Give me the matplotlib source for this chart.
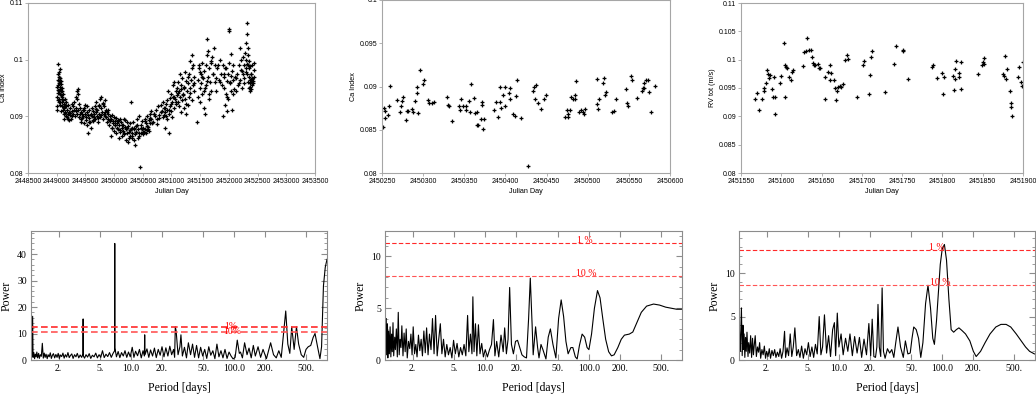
import numpy as np
import matplotlib
matplotlib.use('Agg')
import matplotlib.pyplot as plt
from matplotlib.ticker import FixedLocator, NullLocator, MultipleLocator, FixedFormatter, FuncFormatter

# ---------------- DATA ----------------
JD_BASE = 2448000
# Top-left: Ca index, full time series (JD - 2448000)
ca_full_jd = [
    1005,1010,1012,1015,1018,1020,1025,1028,1030,1033,1036,1040,1042,1045,1048,1050,1055,1058,1060,1065,1068,1070,1075,1078,1082,1085,1090,1095,1098,1100,1008,1022,1052,1062,
    1105,1110,1115,1120,1125,1130,1135,1140,1145,1150,1160,1165,1170,1180,1185,1190,1200,1210,1220,1230,1240,1250,1260,1270,1280,1290,1300,
    1310,1320,1330,1340,1350,1355,1360,1370,1375,1380,1390,1400,1410,1420,1430,1440,1450,
    1460,1470,1480,1490,1500,1510,1520,1530,1540,1550,1560,1570,1580,1590,1600,1610,1620,1630,1640,1650,
    1660,1670,1680,1690,1700,1710,1720,1730,1740,1750,1760,1770,1780,1790,1800,1810,1820,1830,1840,1850,1860,1870,1880,1890,1900,
    1910,1920,1930,1940,1950,1960,1970,1980,1990,2000,2010,2020,2030,2040,2050,2060,2070,2080,2090,2100,
    2110,2120,2130,2140,2150,2160,2170,2180,2190,2200,2210,2220,2230,2240,2250,2260,2270,2280,2290,2300,2305,2310,2320,2330,2340,2350,2360,2370,2380,2390,2400,2410,2420,2430,2440,2445,
    2460,2470,2480,2490,2500,2510,2520,2530,2540,2550,2560,2570,2580,2590,2600,2610,2620,2630,2640,2650,
    2670,2690,2710,2730,2750,2770,2790,2810,2830,2850,2860,2870,2880,2890,2900,
    2910,2920,2930,2940,2950,2960,2970,2980,2990,3000,3010,3020,3030,3040,3050,3060,3070,3080,3090,3100,
    3110,3120,3130,3140,3150,3160,3170,3180,3190,3200,3210,3220,3230,3240,3250,3260,3270,3280,3290,3300,
    3310,3320,3330,3340,3350,3360,3370,3380,3390,3400,3440,
    3460,3470,3480,3490,3500,3510,3520,3530,3540,3550,3560,3570,3580,3590,3600,3610,3620,3630,3640,3650,3660,3670,3680,3690,3700,
    3720,3740,3750,3760,3780,3800,3820,3840,3860,3880,3890,3900,
    3910,3920,3930,3940,3950,3960,3970,3980,3990,4000,4005,4010,4020,4030,4040,4050,4060,4070,4080,4090,4100,
    4120,4140,4160,4180,4190,4200,4210,4220,4230,4240,4250,4260,4270,4280,4290,4300,
    4305,4310,4315,4320,4325,4330,4335,4340,4345,4350,4355,4360,4365,4370,4375,4380,4385,4390,4395,4400,4410,4420,4430,4440,4445,
    # second pass of observations (denser cloud)
    1035,1065,1090,1120,1150,1195,1235,1275,1335,1365,1415,1445,1475,1505,1535,1565,1595,1625,1655,1685,1715,1745,1775,1805,1835,1865,1895,
    1925,1955,1985,2015,2045,2075,2105,2135,2165,2195,2225,2255,2285,2315,2345,2375,2405,2435,2475,2505,2535,2565,2595,2625,2655,
    2700,2740,2780,2820,2865,2895,2925,2955,2985,3015,3045,3075,3105,3135,3165,3195,3225,3255,3285,3325,3355,3385,
    3475,3505,3535,3565,3595,3625,3655,3685,3730,3770,3810,3850,3915,3945,3975,4015,4045,4075,4130,4170,4215,4255,4295,4322,4342,4362,4382,4402,4425,
]
ca_full_val = [
    .0935,.0952,.0918,.0965,.0942,.0928,.0975,.0955,.0993,.0962,.0945,.0978,.0930,.0958,.0970,.0940,.0962,.0925,.0952,.0968,.0938,.0910,.0957,.0944,.0962,.0930,.0950,.0918,.0945,.0935,.0912,.0947,.0920,.0983,
    .0928,.0912,.0940,.0905,.0922,.0895,.0915,.0930,.0908,.0920,.0900,.0918,.0925,.0898,.0912,.0905,.0920,.0893,.0908,.0902,.0915,.0896,.0910,.0900,.0918,.0905,.0912,
    .0925,.0900,.0935,.0915,.0945,.0905,.0930,.0948,.0912,.0922,.0898,.0915,.0905,.0890,.0908,.0897,.0912,
    .0900,.0915,.0888,.0905,.0920,.0893,.0908,.0885,.0902,.0870,.0897,.0912,.0890,.0905,.0880,.0915,.0900,.0892,.0910,.0898,
    .0918,.0895,.0908,.0925,.0900,.0912,.0890,.0920,.0905,.0930,.0898,.0915,.0935,.0908,.0922,.0895,.0918,.0905,.0928,.0900,.0912,.0890,.0908,.0895,.0905,
    .0885,.0900,.0892,.0865,.0895,.0880,.0903,.0888,.0898,.0875,.0892,.0884,.0897,.0870,.0889,.0878,.0893,.0862,.0885,.0895,
    .0872,.0890,.0880,.0865,.0885,.0875,.0895,.0868,.0882,.0858,.0878,.0890,.0870,.0855,.0883,.0873,.0865,.0888,.0878,.0925,.0862,.0880,.0870,.0890,.0858,.0877,.0868,.0850,.0883,.0873,.0895,.0862,.0878,.0900,.0870,.0810,
    .0885,.0870,.0878,.0892,.0868,.0880,.0873,.0895,.0877,.0888,.0870,.0900,.0883,.0878,.0893,.0875,.0905,.0888,.0910,.0895,
    .0890,.0905,.0900,.0912,.0895,.0918,.0903,.0920,.0910,.0898,.0925,.0915,.0880,.0908,.0922,
    .0900,.0928,.0912,.0945,.0905,.0870,.0932,.0918,.0940,.0910,.0925,.0955,.0935,.0915,.0960,.0930,.0945,.0922,.0950,.0938,
    .0960,.0925,.0945,.0975,.0935,.0908,.0955,.0928,.0968,.0940,.0915,.0950,.0978,.0930,.0962,.0905,.0945,.0920,.0958,.0935,
    .0975,.0950,.0998,.0965,.1008,.0985,.0955,.0990,.0970,.0945,.0890,
    .0965,.0935,.0985,.0950,.0925,.0975,.0958,.0995,.0940,.0968,.0915,.0980,.0950,.0905,.0990,.1008,.1037,.0970,.1015,.0930,.0985,.0960,.0998,.0945,.1005,
    .0975,.1020,.0960,.0990,.0945,.0985,.0965,.1000,.0975,.0955,.0990,.0900,
    .0950,.0970,.0920,.0985,.0940,.0962,.0910,.0975,.0930,.1055,.1050,.0995,.0960,.1010,.0945,.0980,.0912,.0965,.0990,.0948,.0970,
    .0945,.0975,.0955,.0990,.1020,.0965,.1000,.0980,.0950,.1005,.0975,.0990,.0958,.1012,.0985,.1030,
    .1000,.1065,.0975,.1045,.0990,.1020,.0960,.1008,.0985,.0950,.0970,.0958,.0945,.0965,.0952,.0975,.0960,.0948,.0968,.0955,.0990,.0962,.0982,.0970,.0995,
    .0925,.0948,.0926,.0916,.0906,.0896,.0906,.0922,.0910,.0940,.0895,.0905,.0912,.0898,.0918,.0890,.0902,.0893,.0905,.0913,.0897,.0918,.0903,.0924,.0908,.0899,.0911,
    .0893,.0879,.0892,.0885,.0880,.0891,.0876,.0885,.0870,.0893,.0880,.0862,.0876,.0866,.0879,.0872,.0885,.0866,.0880,.0873,.0891,.0876,.0882,.0897,.0889,.0904,.0886,
    .0897,.0908,.0903,.0915,.0896,.0912,.0922,.0898,.0935,.0925,.0942,.0918,.0948,.0938,.0952,.0922,.0970,.0942,.0928,.0958,.0990,.0978,
    .0970,.0945,.0955,.0962,.0940,.0995,.0975,.0968,.0990,.0960,.0975,.0985,.0935,.0958,.0972,.0940,.0968,.0958,.0982,.0968,.0978,.0992,.0998,.0988,.0975,.0966,.0958,.0962,.0978,
]

# Top-middle: Ca index, one season (JD - 2450000)
ca_sub_jd = [
    250.8,252,253.6,254,257,258,259.4,268,271.5,272.5,274,275,279,280.5,281.5,286,287.5,289.7,292,293,294,296,299.5,300.7,306,307.7,311,313.8,
    328.6,330.6,331.9,335.5,343.7,345,345.8,348.7,352,352.4,355.6,357.2,358,362,363.4,365,366.6,365.4,370,371,371.6,372.8,374,
    386,388,391.3,393,394.5,394,397.5,399,400,404.3,405.6,406,409,412,413,414.5,419.3,427.5,433.7,435,437,436.5,440,443.7,447.3,449,
    472,474.4,475.5,476.6,478.3,480,482,484,485,485.6,489.3,491.3,494,496,496.8,
    510.7,511.5,512.8,514,519,519.3,520.6,522,529,531.6,534.5,546.4,547.6,548.7,552,553.6,560,566.4,567.5,568.5,569,571.2,573,575,576.5,582,
]
ca_sub_val = [
    .08533,.0875,.0872,.0864,.0867,.0877,.0901,.0884,.0871,.0878,.0883,.0888,.0861,.0872,.0872,.0874,.0871,.0883,.0899,.0893,.0869,.0919,.0903,.0907,.0884,.0881,.0881,.0882,
    .0888,.0879,.0878,.0860,.0878,.0873,.0885,.0877,.0873,.0877,.0883,.0871,.0903,.0887,.0869,.0856,.0856,.0871,.0863,.0879,.0882,.0851,.0863,
    .0873,.0882,.0865,.0882,.0875,.0899,.0890,.0899,.0877,.0892,.0885,.0898,.0868,.0866,.0889,.0907,.0864,.0808,.0895,.0899,.0902,.0885,.0881,.0874,.0886,.0890,
    .0865,.0873,.0865,.0868,.0873,.0888,.0885,.0885,.0890,.0906,.0870,.0873,.0871,.0868,.0874,
    .0880,.0909,.0874,.0885,.0904,.0910,.0890,.0894,.0871,.0872,.0885,.0897,.0881,.0878,.0912,.0908,.0887,.0895,.0898,.0904,.0898,.0907,.0908,.0894,.0871,.0901,
]

# Top-right: RV tot, one season (JD - 2451000)
rv_jd = [
    567.7,570,571.9,576.4,578,579,581.4,582.6,583,584.7,586,588.8,589.6,590.9,591.7,592.5,597.9,600,603.2,604,605,606,607.4,609.4,611.5,612.7,614,
    626.8,628,630.5,632.5,633.8,637,638,639,640.8,642,645,646.2,648.2,654,654.8,658.5,660,661,661.8,665.6,666.8,667.6,669.3,670,673.4,674.2,676,
    679.6,681.2,683,693.6,701.5,702.7,709.3,710,711.4,712.2,728.7,739.8,742.7,750.6,751.4,757.6,
    787.3,788,793,798.9,800.5,801.7,812.9,814,815.3,816.2,817.4,820.3,821,822.8,823.6,844.7,848.8,850.4,851.2,852,
    875.6,876.8,877.7,879.4,880.6,883.5,884.7,885.5,886.4,893.4,895.4,897,898.3,899.5,
]
rv_val = [
    .0930,.0941,.0912,.0931,.0944,.0950,.0958,.0981,.0974,.0968,.0973,.0949,.0934,.0969,.0934,.0905,.0959,.0971,.1030,.0990,.0934,.0987,.0985,.0969,.0965,.0979,.0982,
    .0989,.1013,.1015,.1038,.1017,.1017,.1004,.0995,.0991,.0990,.0993,.0985,.0985,.0930,.0970,.0979,.0990,.0965,.0977,.0964,.0950,.0929,.0945,.0952,.0954,.0951,.0957,
    .0999,.1008,.1001,.0935,.0991,.0997,.0940,.0973,.1005,.1015,.0943,.0993,.1024,.1017,.1016,.0966,
    .0987,.0990,.0968,.0977,.0940,.0969,.0971,.0946,.0966,.0984,.0997,.0977,.0970,.0996,.0949,.0974,.0990,.0996,.0993,.1003,
    .0975,.0972,.1007,.0966,.0983,.0944,.0924,.0916,.0900,.0970,.0987,.0960,.0954,.0996,
]

# Bottom-left periodogram (Ca, full series)
pg_full_period = [
    1.08,1.10,1.12,1.13,1.15,1.17,1.19,1.21,1.23,1.25,
    1.28,1.30,1.33,1.36,1.39,1.42,1.45,1.48,1.51,1.55,
    1.58,1.62,1.66,1.70,1.74,1.78,1.83,1.88,1.93,1.98,
    2.03,2.08,2.14,2.20,2.26,2.32,2.39,2.46,2.53,2.60,
    2.68,2.76,2.85,2.94,3.03,3.13,3.23,3.34,3.43,3.45,
    3.47,3.56,3.68,3.81,3.95,4.09,4.24,4.40,4.57,4.74,
    4.92,5.11,5.31,5.52,5.74,5.97,6.21,6.46,6.72,6.96,
    6.98,7.00,7.25,7.53,7.82,8.12,8.44,8.77,9.12,9.48,
    9.86,10.3,10.7,11.1,11.6,12.1,12.6,13.1,13.5,13.6,
    13.7,14.3,14.9,15.5,16.2,16.9,17.6,18.4,19.2,20.0,
    20.9,21.8,22.8,23.8,24.8,25.9,26.5,26.9,27.4,28.6,
    29.8,30.5,31.5,33.0,34.5,36.0,37.8,39.5,41.3,43.2,
    45.2,47.3,49.5,51.8,54.2,56.7,59.3,62.1,65.0,68.0,
    71.1,74.4,77.8,81.4,85.2,89.1,93.2,97.5,102,107,
    112,115,120,126,133,139,146,153,160,170,
    180,190,205,215,225,240,255,270,285,300,
    315,330,345,360,380,400,420,445,470,495,
    520,550,580,605,640,675,700,730,760,790,
]
pg_full_power = [
    2.5,1.5,16.5,1.0,2.8,0.5,2.2,1.2,3.0,0.8,
    2.5,0.6,2.0,1.4,6.3,0.7,2.6,1.0,2.2,0.5,
    2.0,1.2,2.7,0.6,1.8,2.4,0.8,2.1,1.0,2.5,
    0.6,1.9,1.3,2.6,0.7,2.0,1.1,2.8,0.9,1.7,
    2.3,0.6,2.0,1.2,2.5,0.8,1.9,1.0,2.2,15.5,
    1.5,0.7,2.0,1.1,2.4,0.6,1.8,1.2,2.6,0.8,
    2.0,1.0,3.5,0.9,2.2,1.3,2.8,1.0,2.5,3.5,
    44.0,4.5,1.2,3.2,0.9,2.8,1.5,3.5,1.0,3.0,
    1.2,4.8,1.0,3.3,1.6,4.0,0.8,3.5,1.5,9.5,
    2.0,4.2,1.0,3.8,1.5,4.5,0.9,4.0,1.8,5.0,
    1.2,4.6,1.5,5.2,2.0,4.0,1.0,12.5,11.0,2.0,
    5.0,9.5,1.5,4.8,0.8,6.5,2.0,6.0,1.0,5.5,
    0.8,4.8,1.5,4.0,0.6,5.0,1.8,3.5,0.5,6.0,
    1.2,3.5,0.8,4.0,0.6,3.0,1.5,0.4,1.0,7.5,
    2.5,3.0,0.8,6.5,2.0,4.5,0.8,5.5,1.5,5.0,
    1.0,4.0,0.5,3.5,6.5,2.0,0.8,3.5,1.0,10.0,
    18.5,6.0,2.5,12.5,4.0,12.5,6.0,2.0,1.0,4.0,
    5.0,5.5,8.5,10.0,5.0,0.5,5.0,28.0,35.0,38.0,
]

# Bottom-middle periodogram (Ca, one season)
pg_sub_period = [
    1.11,1.12,1.14,1.15,1.17,1.19,1.21,1.23,1.25,1.27,
    1.29,1.31,1.34,1.36,1.39,1.42,1.45,1.48,1.51,1.54,
    1.57,1.61,1.65,1.69,1.73,1.77,1.82,1.87,1.92,1.97,
    2.02,2.08,2.14,2.20,2.27,2.34,2.41,2.48,2.56,2.64,
    2.72,2.81,2.90,3.00,3.10,3.21,3.32,3.44,3.56,3.69,
    3.82,3.96,4.11,4.26,4.42,4.59,4.77,4.95,5.15,5.35,
    5.56,5.78,6.01,6.25,6.50,6.76,6.95,7.20,7.45,7.60,
    7.80,8.05,8.30,8.60,8.90,9.25,9.60,10.0,10.5,11.0,
    11.5,12.0,12.4,12.9,13.5,14.2,14.9,15.4,16.0,16.6,
    17.2,17.9,18.7,19.6,20.5,21.5,22.6,23.8,25.0,26.2,
    27.2,28.3,29.0,30.6,32.0,33.0,34.5,36.0,38.5,40.5,
    42.5,45.0,48.0,51.0,54.0,57.0,60.0,63.0,67.0,70.0,
    74.0,77.0,81.0,86.0,91.0,96.0,100,106,113,121,
    128,136,145,155,165,175,190,205,220,245,
    265,290,320,360,420,480,550,620,700,780,
]
pg_sub_power = [
    4.0,0.5,3.5,0.2,2.8,0.6,3.2,0.3,2.5,0.8,
    3.6,0.4,2.2,1.0,3.0,0.3,4.6,0.5,2.0,1.2,
    3.3,0.4,2.6,0.8,3.0,0.2,1.8,1.1,2.5,0.5,
    3.2,0.6,1.5,0.3,2.4,0.9,2.0,0.4,2.8,0.7,
    3.1,0.5,2.5,1.0,4.0,0.6,4.3,0.4,2.0,3.5,
    0.6,2.0,0.3,1.5,0.5,1.2,0.2,1.9,0.6,1.6,
    0.3,1.2,0.5,1.5,0.4,4.3,0.8,2.5,0.6,6.1,
    0.8,3.5,0.4,3.4,0.6,1.6,0.3,1.0,0.3,1.0,
    1.5,3.9,0.4,1.8,0.3,2.4,0.8,3.1,0.6,2.0,
    7.0,1.5,0.6,1.8,1.9,1.2,0.5,0.3,0.2,4.0,
    7.9,3.5,0.5,3.2,1.2,0.2,1.5,1.0,0.1,2.2,
    3.0,1.5,0.2,4.0,5.8,4.2,1.8,0.6,1.2,1.2,
    0.3,0.1,1.4,2.5,2.2,1.2,1.0,2.5,5.0,6.7,
    6.0,4.0,2.0,0.8,0.4,0.5,1.2,2.0,2.4,2.5,
    2.7,3.6,4.6,5.2,5.4,5.3,5.1,5.0,4.9,4.9,
]

# Bottom-right periodogram (RV, one season)
pg_rv_period = [
    1.09,1.11,1.12,1.14,1.16,1.18,1.19,1.21,1.23,1.25,
    1.27,1.29,1.32,1.34,1.37,1.40,1.43,1.46,1.49,1.52,
    1.55,1.59,1.63,1.67,1.71,1.75,1.80,1.85,1.90,1.95,
    2.00,2.06,2.12,2.18,2.25,2.32,2.39,2.46,2.54,2.62,
    2.70,2.79,2.88,2.98,3.05,3.15,3.26,3.38,3.50,3.62,
    3.75,3.90,4.05,4.20,4.36,4.53,4.70,4.88,5.07,5.27,
    5.48,5.70,5.93,6.17,6.45,6.70,6.95,7.25,7.60,7.95,
    8.30,8.70,9.05,9.30,9.65,10.0,10.5,11.0,11.6,12.2,
    12.8,13.5,14.2,15.0,15.8,16.6,17.5,18.5,19.5,20.3,
    21.0,21.8,22.6,23.3,23.9,24.6,25.4,26.2,27.0,28.0,
    29.5,31.0,32.5,34.0,35.5,37.3,39.5,42.0,44.0,46.5,
    49.0,51.0,53.0,56.0,59.0,62.0,65.0,69.0,72.8,77.0,
    81.0,84.0,88.0,92.0,95.7,100,105,110,116,122,
    129,137,145,155,168,185,200,213,235,260,
    290,330,370,415,460,520,580,640,700,780,
]
pg_rv_power = [
    3.5,1.0,2.5,6.0,0.5,4.0,1.2,3.0,0.3,2.6,
    1.0,3.2,0.4,2.0,0.8,2.8,0.3,2.5,0.6,1.8,
    2.8,0.4,1.5,0.9,2.0,0.2,1.2,0.6,1.6,0.2,
    1.0,0.4,1.3,0.2,1.1,0.5,1.2,0.3,0.9,0.4,
    1.3,0.2,1.0,3.3,0.3,1.4,0.5,3.0,0.4,1.5,
    3.7,0.5,1.2,0.3,1.6,0.2,1.3,0.6,2.0,0.4,
    1.5,0.3,1.8,0.7,5.0,0.6,1.5,5.2,0.8,2.8,
    0.4,3.5,4.3,0.5,5.4,1.5,3.0,0.6,2.5,1.0,
    3.0,0.5,2.7,0.8,2.6,0.3,2.4,0.6,4.2,0.5,
    4.7,0.4,0.3,1.5,6.4,1.5,0.4,8.3,1.0,0.2,
    1.3,0.8,1.2,0.3,2.0,3.8,1.5,0.3,2.2,0.7,
    0.8,2.5,3.8,3.5,2.5,0.3,2.0,6.5,8.6,6.0,
    2.5,1.8,4.5,8.0,11.0,12.8,13.3,11.5,7.0,3.5,
    3.2,3.5,3.7,3.4,3.0,2.2,1.0,0.4,1.0,2.0,
    3.0,3.8,4.1,4.1,3.8,3.0,2.2,1.5,1.0,0.7,
]

# false-alarm levels (power) per periodogram: (1 %, 10 %)
fap_full = (12.6, 10.5)
fap_sub = (11.29, 8.06)
fap_rv = (12.65, 8.6)

period_ticks = [2, 5, 10, 20, 50, 100, 200, 500]
period_labels = ['2.', '5.', '10.0', '20.', '50.', '100.0', '200.', '500.']

# ---------------- FIGURE ----------------
W, H = 1036, 394
fig = plt.figure(figsize=(W / 100, H / 100), dpi=100)

def rect(x0, y0, x1, y1):
    return [x0 / W, 1 - y1 / H, (x1 - x0) / W, (y1 - y0) / H]

SANS = ['Liberation Sans', 'DejaVu Sans']
SERIF = ['Liberation Serif', 'DejaVu Serif']
FRAME = '#a6a6a6'

def gfmt(v, pos):
    return ('%.3f' % v).rstrip('0').rstrip('.') if v != 0 else '0'

def style_top(ax, xlim, xstep, ylim, ystep, ylabel):
    ax.set_xlim(*xlim)
    ax.set_ylim(*ylim)
    ax.xaxis.set_major_locator(MultipleLocator(xstep))
    ax.yaxis.set_major_locator(MultipleLocator(ystep))
    ax.xaxis.set_major_formatter(FuncFormatter(lambda v, p: '%d' % round(v)))
    ax.yaxis.set_major_formatter(FuncFormatter(gfmt))
    for s in ax.spines.values():
        s.set_color(FRAME)
        s.set_linewidth(0.8)
    ax.tick_params(direction='out', length=2, width=0.6, color=FRAME,
                   labelsize=5, pad=1.5)
    for lab in ax.get_xticklabels() + ax.get_yticklabels():
        lab.set_family(SANS)
    ax.set_xlabel('Julian Day', fontsize=5.2, family=SANS, labelpad=2)
    ax.set_ylabel(ylabel, fontsize=5.2, family=SANS, labelpad=2)

mk = dict(ls='none', marker='P', ms=2.8, mew=0, color='black')

ax1 = fig.add_axes(rect(28, 3, 315, 173))
n = min(len(ca_full_jd), len(ca_full_val))
ax1.plot(np.array(ca_full_jd[:n]) + JD_BASE, ca_full_val[:n], **mk)
style_top(ax1, (2448500, 2453500), 500, (0.08, 0.11), 0.01, 'Ca index')

ax2 = fig.add_axes(rect(382, 0, 670, 173))
n = min(len(ca_sub_jd), len(ca_sub_val))
ax2.plot(np.array(ca_sub_jd[:n]) + 2450000, ca_sub_val[:n], **mk)
style_top(ax2, (2450250, 2450600), 50, (0.08, 0.1), 0.005, 'Ca Index')

ax3 = fig.add_axes(rect(741, 3, 1023, 173))
n = min(len(rv_jd), len(rv_val))
ax3.plot(np.array(rv_jd[:n]) + 2451000, rv_val[:n], **mk)
style_top(ax3, (2451550, 2451900), 50, (0.08, 0.11), 0.005, 'RV tot (m/s)')

def style_bottom(ax, P, pw, ymax, ymaj, ymin, fap, lw_fap, lab_pos):
    n = min(len(P), len(pw))
    ax.plot(P[:n], pw[:n], color='black', lw=0.8)
    ax.set_xscale('log')
    ax.set_xlim(1.08, 790)
    ax.set_ylim(0, ymax)
    ax.xaxis.set_major_locator(FixedLocator(period_ticks))
    ax.xaxis.set_major_formatter(FixedFormatter(period_labels))
    ax.xaxis.set_minor_locator(NullLocator())
    ax.yaxis.set_major_locator(MultipleLocator(ymaj))
    ax.yaxis.set_minor_locator(MultipleLocator(ymin))
    for s in ax.spines.values():
        s.set_color('#8c8c8c')
        s.set_linewidth(0.8)
    ax.tick_params(which='both', direction='in', top=True, right=True,
                   color='#8c8c8c', labelsize=7, pad=3)
    ax.tick_params(which='major', length=4, width=0.8)
    ax.tick_params(which='minor', length=2, width=0.6)
    for lab in ax.get_xticklabels() + ax.get_yticklabels():
        lab.set_family(SERIF)
    ax.axhline(fap[0], color='#ff2a2a', ls=(0, (4, 2)), lw=lw_fap)
    ax.axhline(fap[1], color='#ff5555', ls=(0, (4, 2)), lw=lw_fap)
    (x1, y1, t1), (x2, y2, t2) = lab_pos
    ax.text(x1, y1, t1, color='red', fontsize=7, family=SERIF, ha='center', va='baseline')
    ax.text(x2, y2, t2, color='red', fontsize=7, family=SERIF, ha='center', va='baseline')
    ax.set_xlabel('Period [days]', fontsize=8.5, family=SERIF, labelpad=6)
    ax.set_ylabel('Power', fontsize=8.5, family=SERIF, labelpad=3)

ax4 = fig.add_axes(rect(31, 231, 327, 360))
style_bottom(ax4, pg_full_period, pg_full_power, 48.7, 10, 2, fap_full, 1.2,
             ((92, 11.6, '1%'), (96, 10.0, '10%')))

ax5 = fig.add_axes(rect(385, 231, 682, 360))
style_bottom(ax5, pg_sub_period, pg_sub_power, 12.45, 5, 1, fap_sub, 0.8,
             ((92, fap_sub[0], '1 %'), (95, fap_sub[1], '10 %')))

ax6 = fig.add_axes(rect(739, 231, 1035, 360))
style_bottom(ax6, pg_rv_period, pg_rv_power, 14.85, 5, 1, fap_rv, 0.8,
             ((88, fap_rv[0], '1 %'), (95, fap_rv[1], '10 %')))

fig.savefig('out.png', dpi=100)
